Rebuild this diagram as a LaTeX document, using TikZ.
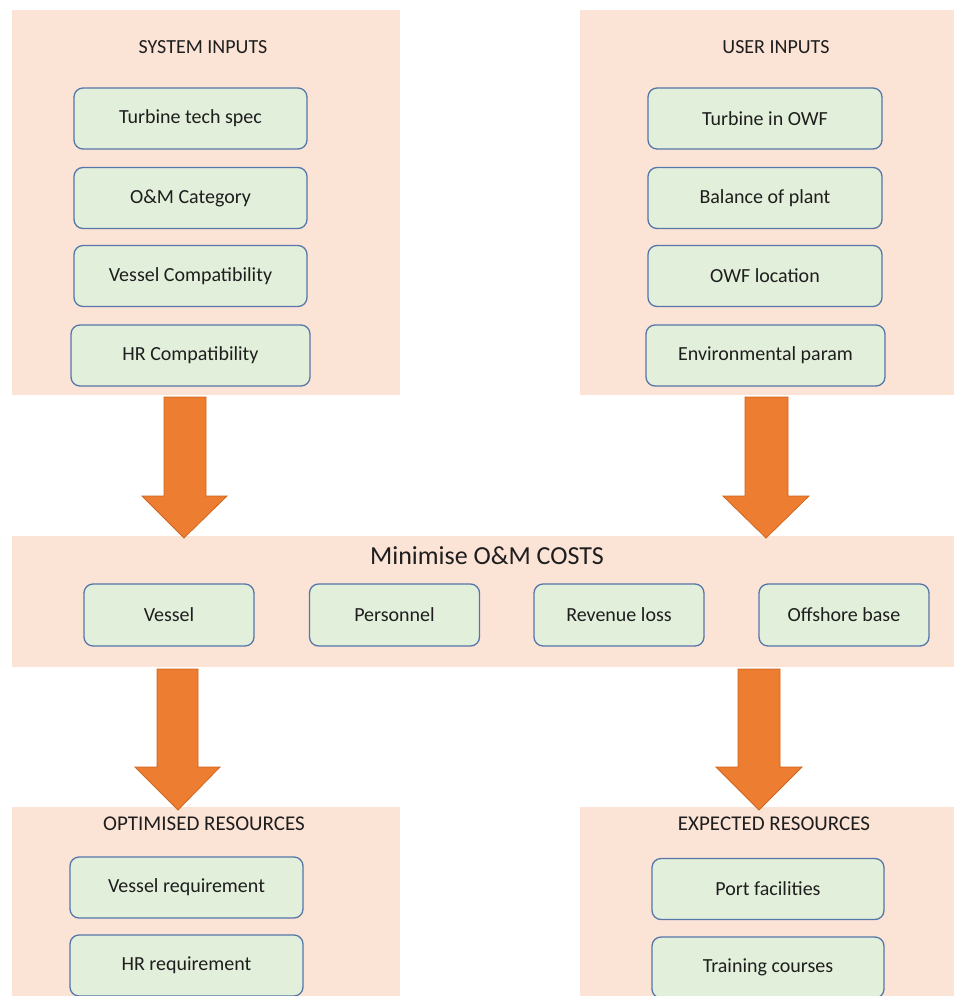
\documentclass[tikz,border=0pt]{standalone}
\usepackage{fontspec}
\setmainfont{Carlito}
\definecolor{panelc}{HTML}{FBE3D6}
\definecolor{boxfill}{HTML}{E2EFDA}
\definecolor{boxline}{HTML}{5676A8}
\definecolor{arrowc}{HTML}{ED7D31}
\definecolor{arrowline}{HTML}{D0661E}
\definecolor{txt}{HTML}{1E1E1E}
\begin{document}
\begin{tikzpicture}[x=1pt,y=-1pt,
  panel/.style={fill=panelc,draw=none,anchor=north west,inner sep=0pt},
  gbox/.style={fill=boxfill,draw=boxline,line width=1.3pt,rounded corners=9pt,
    minimum height=61pt,inner sep=0pt,text=txt,font=\fontsize{20}{24}\selectfont},
  ptitle/.style={text=txt,inner sep=0pt,font=\fontsize{20}{24}\selectfont},
  btitle/.style={text=txt,inner sep=0pt,font=\fontsize{21}{25}\selectfont},
  bigarrow/.style={fill=arrowc,draw=arrowline,line width=0.8pt,line join=miter}]
\clip (0,0) rectangle (954,996);
\fill[white] (0,0) rectangle (954,996);
% panels
\node[panel,minimum width=388pt,minimum height=385pt] (sysp) at (12,10) {};
\node[panel,minimum width=374pt,minimum height=385pt] (usrp) at (580,10) {};
\node[panel,minimum width=942pt,minimum height=131pt] (band) at (12,536) {};
\node[panel,minimum width=388pt,minimum height=200pt] (optp) at (12,807) {};
\node[panel,minimum width=374pt,minimum height=200pt] (expp) at (580,807) {};
% titles
\node[ptitle] (syst) at (203,47) {SYSTEM INPUTS};
\node[ptitle] (usrt) at (776,47) {USER INPUTS};
\node[text=txt,inner sep=0pt,font=\fontsize{26}{30}\selectfont] (bandt) at (487,556) {Minimise O\&M COSTS};
\node[btitle] (optt) at (204,824) {OPTIMISED RESOURCES};
\node[btitle] (expt) at (774,824) {EXPECTED RESOURCES};
% system inputs
\node[gbox,minimum width=233pt] (s1) at (190.5,118.5) {Turbine tech spec};
\node[gbox,minimum width=233pt] (s2) at (190.5,198) {O\&M Category};
\node[gbox,minimum width=233pt] (s3) at (190.5,276) {Vessel Compatibility};
\node[gbox,minimum width=239pt] (s4) at (190.5,355.5) {HR Compatibility};
% user inputs
\node[gbox,minimum width=234pt] (u1) at (765,118.5) {Turbine in OWF};
\node[gbox,minimum width=234pt] (u2) at (765,198) {Balance of plant};
\node[gbox,minimum width=234pt] (u3) at (765,276) {OWF location};
\node[gbox,minimum width=239pt] (u4) at (765.5,355.5) {Environmental param};
% cost boxes
\node[gbox,minimum width=170pt,minimum height=62pt] (c1) at (169,615) {Vessel};
\node[gbox,minimum width=170pt,minimum height=62pt] (c2) at (394.5,615) {Personnel};
\node[gbox,minimum width=170pt,minimum height=62pt] (c3) at (619,615) {Revenue loss};
\node[gbox,minimum width=170pt,minimum height=62pt] (c4) at (844,615) {Offshore base};
% outputs
\node[gbox,minimum width=233pt] (o1) at (186.5,887.5) {Vessel requirement};
\node[gbox,minimum width=233pt] (o2) at (186.5,965.5) {HR requirement};
\node[gbox,minimum width=232pt] (e1) at (768,889) {Port facilities};
\node[gbox,minimum width=232pt] (e2) at (768,967.5) {Training courses};
% block arrows
\draw[bigarrow] (164,397) -- (206,397) -- (206,496) -- (227,496) -- (184,538) -- (142,496) -- (164,496) -- cycle;
\draw[bigarrow] (745,397) -- (788,397) -- (788,496) -- (809,496) -- (766,538) -- (723,496) -- (745,496) -- cycle;
\draw[bigarrow] (157,669) -- (198,669) -- (198,767) -- (220,767) -- (178,810) -- (135,767) -- (157,767) -- cycle;
\draw[bigarrow] (738,669) -- (780,669) -- (780,767) -- (802,767) -- (759,810) -- (716,767) -- (738,767) -- cycle;
\end{tikzpicture}
\end{document}
